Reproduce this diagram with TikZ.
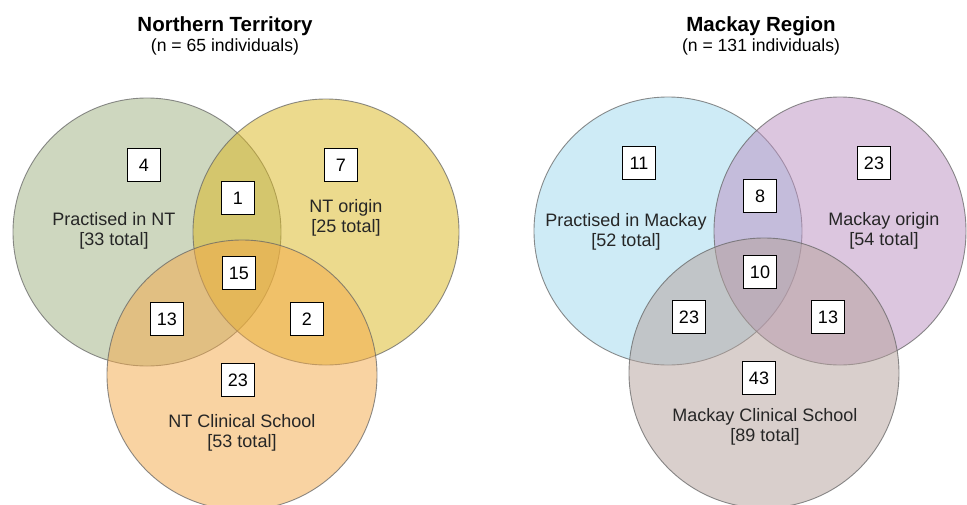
\documentclass[tikz,border=0pt]{standalone}
\usepackage{fontspec}
\setmainfont{Liberation Sans}
\begin{document}
\begin{tikzpicture}[x=1pt,y=-1pt,
  venn/.style={fill opacity=0.5, draw=black!60, draw opacity=0.75, line width=0.9pt},
  numbox/.style={draw=black, fill=white, line width=1.1pt, minimum width=33pt, minimum height=33pt, inner sep=0pt, font=\fontsize{18}{21}\selectfont},
  lbl/.style={anchor=base, inner sep=0pt, font=\fontsize{18}{21}\selectfont, text=black!85},
  ttl/.style={anchor=base, inner sep=0pt, font=\fontsize{20.5}{24}\selectfont\bfseries},
  sub/.style={anchor=base, inner sep=0pt, font=\fontsize{17.6}{21}\selectfont}]
\definecolor{cgreen}{RGB}{159,177,129}
\definecolor{cyellow}{RGB}{219,183,29}
\definecolor{corange}{RGB}{245,169,71}
\definecolor{cblue}{RGB}{159,217,239}
\definecolor{cpurple}{RGB}{187,143,193}
\definecolor{cbrown}{RGB}{181,161,155}
\useasboundingbox[fill=white] (0,0) rectangle (967,504);
\begin{scope}
\clip (0,0) rectangle (967,504);
% left panel
\draw[venn, fill=cgreen] (147,232) circle[radius=134pt];
\draw[venn, fill=cyellow] (326,232) circle[radius=133pt];
\draw[venn, fill=corange] (242,375) circle[radius=135pt];
% right panel
\draw[venn, fill=cblue] (668,231) circle[radius=134pt];
\draw[venn, fill=cpurple] (840,231) ellipse[x radius=126pt, y radius=134pt];
\draw[venn, fill=cbrown] (764,373) circle[radius=135pt];
\end{scope}
% titles
\node[ttl] (t1) at (225,31) {Northern Territory};
\node[sub] (s1) at (225,51) {(n = 65 individuals)};
\node[ttl] (t2) at (761,31) {Mackay Region};
\node[sub] (s2) at (761,51) {(n = 131 individuals)};
% left labels
\node[lbl] (la1) at (114,225) {Practised in NT};
\node[lbl] (la2) at (114,245) {[33 total]};
\node[lbl] (lb1) at (346,212) {NT origin};
\node[lbl] (lb2) at (346,232) {[25 total]};
\node[lbl] (lc1) at (242,427) {NT Clinical School};
\node[lbl] (lc2) at (242,447) {[53 total]};
% right labels
\node[lbl] (ra1) at (626,226) {Practised in Mackay};
\node[lbl] (ra2) at (626,246) {[52 total]};
\node[lbl] (rb1) at (884,225) {Mackay origin};
\node[lbl] (rb2) at (884,245) {[54 total]};
\node[lbl] (rc1) at (765,421) {Mackay Clinical School};
\node[lbl] (rc2) at (765,441) {[89 total]};
% left numbers
\node[numbox] (n4) at (144,165) {4};
\node[numbox] (n1) at (238,198) {1};
\node[numbox] (n7) at (341,165) {7};
\node[numbox] (n15) at (239,273) {15};
\node[numbox] (n13) at (167,319) {13};
\node[numbox] (n2) at (307,319) {2};
\node[numbox] (n23) at (238,380) {23};
% right numbers
\node[numbox] (m11) at (639,163) {11};
\node[numbox] (m8) at (760,196) {8};
\node[numbox] (m23a) at (874,163) {23};
\node[numbox] (m10) at (760,272) {10};
\node[numbox] (m23b) at (689,317) {23};
\node[numbox] (m13) at (828,317) {13};
\node[numbox] (m43) at (759,378) {43};
\end{tikzpicture}
\end{document}
